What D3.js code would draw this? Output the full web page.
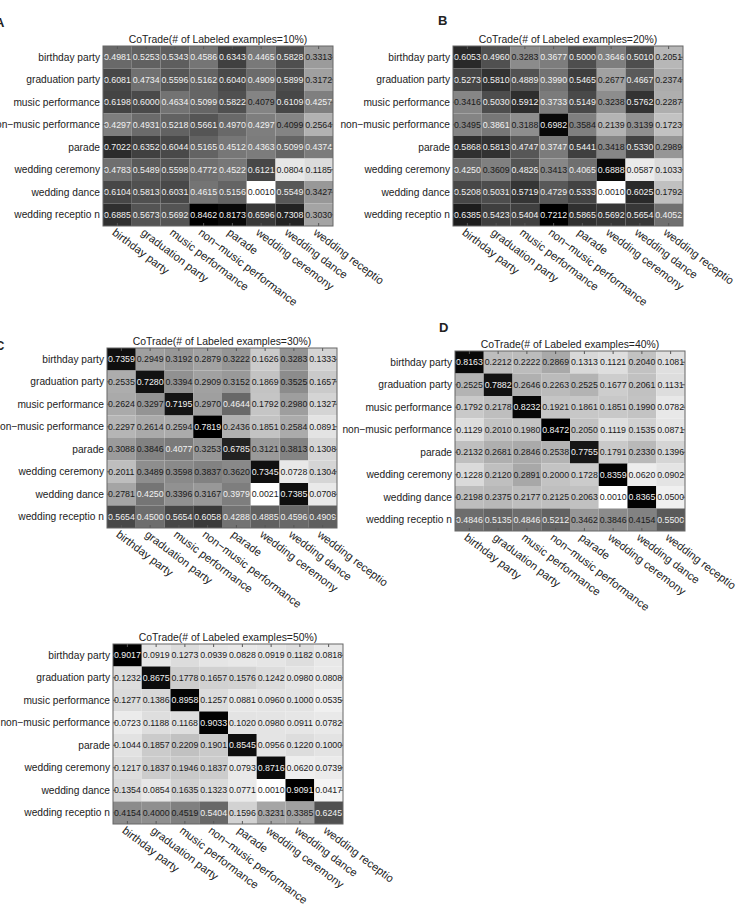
<!DOCTYPE html>
<html>
<head>
<meta charset="utf-8">
<script src="https://cdn.jsdelivr.net/npm/d3@7"></script>
<style>
  body { margin: 0; background: #fff; }
  svg { display: block; font-family: "Liberation Sans", Arial, sans-serif; }
</style>
</head>
<body>
<script>
var categories = ["birthday party", "graduation party", "music performance", "non\u2212music performance",
                  "parade", "wedding ceremony", "wedding dance", "wedding reception"];
// the bottom labels in the figure are clipped to "receptio"
var xTickLabels = ["birthday party", "graduation party", "music performance", "non\u2212music performance",
                   "parade", "wedding ceremony", "wedding dance", "wedding receptio"];
var percents = ["10%", "20%", "30%", "40%", "50%"];

var m10 = [
  [0.4981, 0.5253, 0.5343, 0.4586, 0.6343, 0.4465, 0.5828, 0.3313],
  [0.6081, 0.4734, 0.5596, 0.5162, 0.6040, 0.4909, 0.5899, 0.3172],
  [0.6198, 0.6000, 0.4634, 0.5099, 0.5822, 0.4079, 0.6109, 0.4257],
  [0.4297, 0.4931, 0.5218, 0.5661, 0.4970, 0.4297, 0.4099, 0.2564],
  [0.7022, 0.6352, 0.6044, 0.5165, 0.4512, 0.4363, 0.5099, 0.4374],
  [0.4783, 0.5489, 0.5598, 0.4772, 0.4522, 0.6121, 0.0804, 0.1185],
  [0.6104, 0.5813, 0.6031, 0.4615, 0.5156, 0.0010, 0.5549, 0.3427],
  [0.6885, 0.5673, 0.5692, 0.8462, 0.8173, 0.6596, 0.7308, 0.3030]
];
var m20 = [
  [0.6053, 0.4960, 0.3283, 0.3677, 0.5000, 0.3646, 0.5010, 0.2051],
  [0.5273, 0.5810, 0.4889, 0.3990, 0.5465, 0.2677, 0.4667, 0.2374],
  [0.3416, 0.5030, 0.5912, 0.3733, 0.5149, 0.3238, 0.5762, 0.2287],
  [0.3495, 0.3861, 0.3188, 0.6982, 0.3584, 0.2139, 0.3139, 0.1723],
  [0.5868, 0.5813, 0.4747, 0.3747, 0.5441, 0.3418, 0.5330, 0.2989],
  [0.4250, 0.3609, 0.4826, 0.3413, 0.4065, 0.6888, 0.0587, 0.1033],
  [0.5208, 0.5031, 0.5719, 0.4729, 0.5333, 0.0010, 0.6025, 0.1792],
  [0.6385, 0.5423, 0.5404, 0.7212, 0.5865, 0.5692, 0.5654, 0.4052]
];
var m30 = [
  [0.7359, 0.2949, 0.3192, 0.2879, 0.3222, 0.1626, 0.3283, 0.1333],
  [0.2535, 0.7280, 0.3394, 0.2909, 0.3152, 0.1869, 0.3525, 0.1657],
  [0.2624, 0.3297, 0.7195, 0.2970, 0.4644, 0.1792, 0.2980, 0.1327],
  [0.2297, 0.2614, 0.2594, 0.7819, 0.2436, 0.1851, 0.2584, 0.0891],
  [0.3088, 0.3846, 0.4077, 0.3253, 0.6785, 0.3121, 0.3813, 0.1308],
  [0.2011, 0.3489, 0.3598, 0.3837, 0.3620, 0.7345, 0.0728, 0.1304],
  [0.2781, 0.4250, 0.3396, 0.3167, 0.3979, 0.0021, 0.7385, 0.0708],
  [0.5654, 0.4500, 0.5654, 0.6058, 0.4288, 0.4885, 0.4596, 0.4909]
];
var m40 = [
  [0.8163, 0.2212, 0.2222, 0.2869, 0.1313, 0.1121, 0.2040, 0.1081],
  [0.2525, 0.7882, 0.2646, 0.2263, 0.2525, 0.1677, 0.2061, 0.1131],
  [0.1792, 0.2178, 0.8232, 0.1921, 0.1861, 0.1851, 0.1990, 0.0782],
  [0.1129, 0.2010, 0.1980, 0.8472, 0.2050, 0.1119, 0.1535, 0.0871],
  [0.2132, 0.2681, 0.2846, 0.2538, 0.7755, 0.1791, 0.2330, 0.1396],
  [0.1228, 0.2120, 0.2891, 0.2000, 0.1728, 0.8359, 0.0620, 0.0902],
  [0.2198, 0.2375, 0.2177, 0.2125, 0.2063, 0.0010, 0.8365, 0.0500],
  [0.4846, 0.5135, 0.4846, 0.5212, 0.3462, 0.3846, 0.4154, 0.5500]
];
var m50 = [
  [0.9017, 0.0919, 0.1273, 0.0939, 0.0828, 0.0919, 0.1182, 0.0818],
  [0.1232, 0.8675, 0.1778, 0.1657, 0.1576, 0.1242, 0.0980, 0.0808],
  [0.1277, 0.1386, 0.8958, 0.1257, 0.0881, 0.0960, 0.1000, 0.0535],
  [0.0723, 0.1188, 0.1168, 0.9033, 0.1020, 0.0980, 0.0911, 0.0782],
  [0.1044, 0.1857, 0.2209, 0.1901, 0.8545, 0.0956, 0.1220, 0.1000],
  [0.1217, 0.1837, 0.1946, 0.1837, 0.0793, 0.8716, 0.0620, 0.0739],
  [0.1354, 0.0854, 0.1635, 0.1323, 0.0771, 0.0010, 0.9091, 0.0417],
  [0.4154, 0.4000, 0.4519, 0.5404, 0.1596, 0.3231, 0.3385, 0.6245]
];

var panels = [
  {data: m10, pct: percents[0], letter: "A", left: 103, top: 46,  lx: -5,  ly: 27},
  {data: m20, pct: percents[1], letter: "B", left: 453, top: 46,  lx: 438, ly: 25},
  {data: m30, pct: percents[2], letter: "C", left: 107, top: 348, lx: -5,  ly: 350},
  {data: m40, pct: percents[3], letter: "D", left: 455, top: 351, lx: 439, ly: 332},
  {data: m50, pct: percents[4], letter: "",  left: 113, top: 644, lx: 0,   ly: 0}
];

var W = 230, H = 180;

var svg = d3.select("body").append("svg")
    .attr("width", 736).attr("height", 909);

panels.forEach(function(p) {
  var flat = d3.merge(p.data);
  var color = d3.scaleLinear().domain(d3.extent(flat)).range(["#ffffff", "#000000"]);
  var norm = d3.scaleLinear().domain(d3.extent(flat)).range([0, 1]);

  var x = d3.scaleBand().domain(d3.range(8)).range([0, W]),
      y = d3.scaleBand().domain(d3.range(8)).range([0, H]);

  if (p.letter) {
    svg.append("text")
      .attr("x", p.lx).attr("y", p.ly)
      .attr("font-size", 13).attr("font-weight", "bold").attr("fill", "#222")
      .text(p.letter);
  }

  var g = svg.append("g")
      .attr("transform", "translate(" + p.left + "," + p.top + ")");

  var cells = [];
  p.data.forEach(function(row, i) {
    row.forEach(function(v, j) { cells.push({r: i, c: j, v: v}); });
  });

  g.selectAll(".cell")
    .data(cells)
    .enter().append("rect")
      .attr("class", "cell")
      .attr("x", function(d) { return x(d.c); })
      .attr("y", function(d) { return y(d.r); })
      .attr("width", x.bandwidth())
      .attr("height", y.bandwidth())
      .attr("fill", function(d) { return color(d.v); });

  g.selectAll(".val")
    .data(cells)
    .enter().append("text")
      .attr("class", "val")
      .attr("x", function(d) { return x(d.c) + x.bandwidth() / 2; })
      .attr("y", function(d) { return y(d.r) + y.bandwidth() / 2; })
      .attr("dy", "0.36em")
      .attr("text-anchor", "middle")
      .attr("font-size", 8.8)
      .attr("fill", function(d) { return norm(d.v) > 0.5 ? "#f2f2f2" : "#1a1a1a"; })
      .text(function(d) { return d.v.toFixed(4); });

  // ticks on all four sides, pointing inward
  var noLabel = function() { return ""; };
  g.append("g").call(d3.axisTop(x).tickSize(-3).tickFormat(noLabel));
  g.append("g").attr("transform", "translate(0," + H + ")")
    .call(d3.axisBottom(x).tickSize(-3).tickFormat(noLabel));
  g.append("g").call(d3.axisLeft(y).tickSize(-3).tickFormat(noLabel));
  g.append("g").attr("transform", "translate(" + W + ",0)")
    .call(d3.axisRight(y).tickSize(-3).tickFormat(noLabel));
  g.selectAll(".domain").remove();
  g.selectAll(".tick line").attr("stroke", "#555");

  g.append("rect")
    .attr("width", W).attr("height", H)
    .attr("fill", "none").attr("stroke", "#666").attr("stroke-width", 1);

  // row labels
  g.selectAll(".rowlab")
    .data(categories)
    .enter().append("text")
      .attr("class", "rowlab")
      .attr("x", -3)
      .attr("y", function(d, i) { return y(i) + y.bandwidth() / 2; })
      .attr("dy", "0.35em")
      .attr("text-anchor", "end")
      .attr("font-size", 10.2)
      .attr("fill", "#222")
      .each(function(d) {
        var t = d3.select(this);
        if (d === "wedding reception") {
          t.append("tspan").text("wedding receptio");
          t.append("tspan").attr("dx", 3).text("n");
        } else {
          t.text(d);
        }
      });

  // column labels
  g.selectAll(".collab")
    .data(xTickLabels)
    .enter().append("text")
      .attr("class", "collab")
      .attr("transform", function(d, i) {
        return "translate(" + (x(i) + x.bandwidth() / 2 - 6) + "," + (H + 8) + ") rotate(37)";
      })
      .attr("text-anchor", "start")
      .attr("font-size", 11.2)
      .attr("fill", "#222")
      .text(function(d) { return d; });

  g.append("text")
    .attr("x", W / 2).attr("y", -3)
    .attr("text-anchor", "middle")
    .attr("font-size", 10.4)
    .attr("fill", "#222")
    .text("CoTrade(# of Labeled examples=" + p.pct + ")");
});
</script>
</body>
</html>
